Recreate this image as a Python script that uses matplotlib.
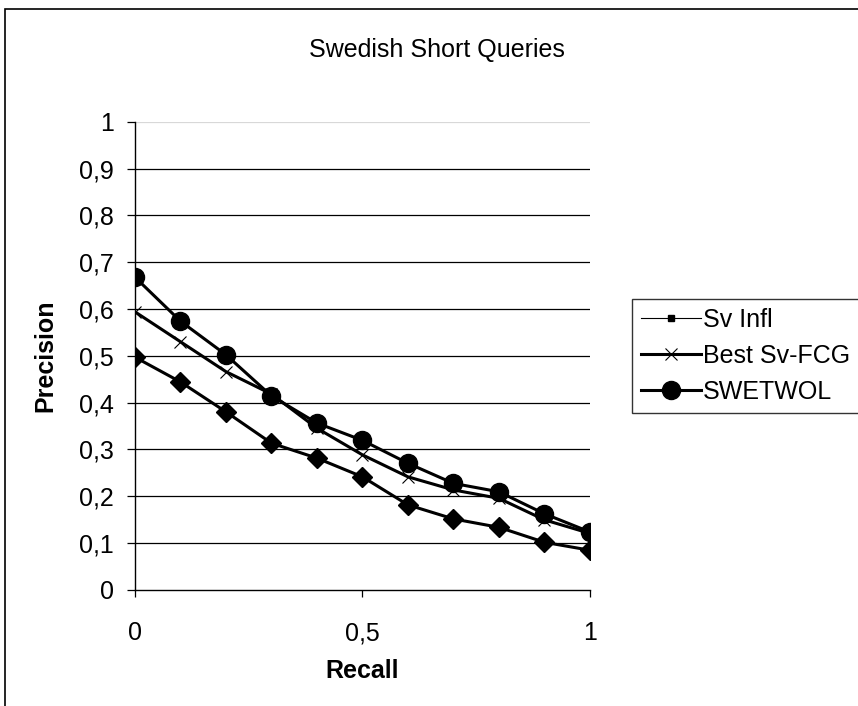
import matplotlib.pyplot as plt
from matplotlib.patches import Rectangle

plt.rcParams["font.family"] = ["Liberation Sans", "DejaVu Sans"]

# ── data ─────────────────────────────────────────────────────────────────────
recall = [0.0, 0.1, 0.2, 0.3, 0.4, 0.5, 0.6, 0.7, 0.8, 0.9, 1.0]

sv_infl    = [0.497, 0.444, 0.380, 0.313, 0.281, 0.241, 0.181, 0.151, 0.133, 0.101, 0.084]
best_fcg   = [0.594, 0.530, 0.466, 0.418, 0.345, 0.288, 0.241, 0.213, 0.195, 0.149, 0.120]
swetwol    = [0.668, 0.574, 0.502, 0.414, 0.356, 0.319, 0.270, 0.227, 0.209, 0.162, 0.123]
diamond    = [0.497, 0.444, 0.380, 0.313, 0.281, 0.241, 0.181, 0.151, 0.133, 0.101, 0.084]

y_ticks  = [0, 0.1, 0.2, 0.3, 0.4, 0.5, 0.6, 0.7, 0.8, 0.9, 1.0]
y_labels = ["0", "0,1", "0,2", "0,3", "0,4", "0,5", "0,6", "0,7", "0,8", "0,9", "1"]
x_ticks  = [0, 0.5, 1]
x_labels = ["0", "0,5", "1"]

FS = 18

# ── figure ───────────────────────────────────────────────────────────────────
fig = plt.figure(figsize=(8.58, 7.06), dpi=100)
fig.patches.append(Rectangle((5 / 858, -0.1), 1.2, 1.1 - 9 / 706,
                             transform=fig.transFigure, fill=False,
                             edgecolor="black", linewidth=1.2))

ax = fig.add_axes([0.1573, 0.165, 0.5303, 0.6622])
ax.set_xlim(0, 1)
ax.set_ylim(0, 1)

for v in y_ticks[1:]:
    ax.axhline(v, color="#d8d8d8" if v == 1.0 else "black", linewidth=0.9, zorder=1)

ax.plot(recall, sv_infl, color="black", linewidth=0.8, marker="s",
        markersize=5, label="Sv Infl", zorder=2)
ax.plot(recall, best_fcg, color="black", linewidth=2.2, marker="x",
        markersize=8, markeredgewidth=0.8, label="Best Sv-FCG", zorder=3)
ax.plot(recall, swetwol, color="black", linewidth=2.2, marker="o",
        markersize=13, label="SWETWOL", zorder=4)
ax.plot(recall, diamond, color="black", linewidth=2.2, marker="D",
        markersize=10, label="_nolegend_", zorder=3)

ax.set_yticks(y_ticks)
ax.set_yticklabels(y_labels, fontsize=FS)
ax.set_xticks(x_ticks)
ax.set_xticklabels(x_labels, fontsize=FS)
ax.tick_params(axis="y", direction="out", length=6, width=0.9, pad=9)
ax.tick_params(axis="x", direction="out", length=5, width=0.9, pad=18)

for side in ["top", "right"]:
    ax.spines[side].set_visible(False)
ax.spines["left"].set_linewidth(1.0)
ax.spines["bottom"].set_linewidth(1.0)

ax.set_xlabel("Recall", fontsize=FS, fontweight="bold", labelpad=10)
ax.set_ylabel("Precision", fontsize=FS, fontweight="bold", labelpad=16)

fig.text(0.509, 1 - 50 / 706, "Swedish Short Queries", fontsize=18,
         ha="center", va="center")

leg = fig.legend(loc="upper left", bbox_to_anchor=(632 / 858, 1 - 299 / 706),
                 fontsize=FS, frameon=True, fancybox=False, handlelength=2.4,
                 handletextpad=0.1, borderpad=0.35, labelspacing=0.48,
                 borderaxespad=0)
leg.get_frame().set_edgecolor("black")
leg.get_frame().set_linewidth(1.0)

plt.savefig("out.png", dpi=100)
plt.close()
